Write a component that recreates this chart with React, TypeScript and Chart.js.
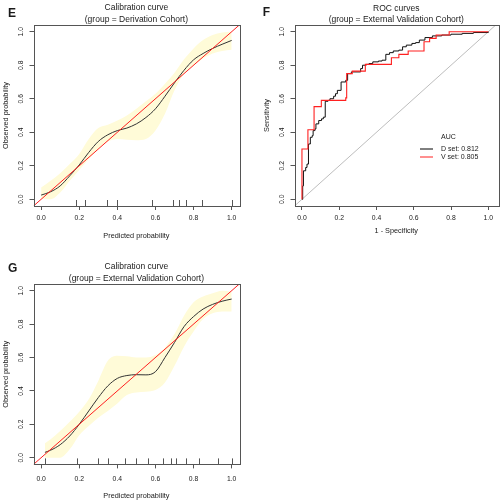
import React, { useEffect, useRef } from "react";
import { Chart, registerables } from "chart.js";

Chart.register(...registerables);

const FONT = "'Liberation Sans', Arial, Helvetica, sans-serif";
const TXT = "#1a1a1a";
const BOX = "#555555";
const RED = "#ff2020";
const BAND = "#fffbd8";

// ---------------- data ----------------
const axisTicks = [0, 0.2, 0.4, 0.6, 0.8, 1.0];
const diagEnds = [-0.04, 1.04];

// Panel E: calibration, derivation cohort
const calEx = [0, 0.05, 0.1, 0.15, 0.2, 0.25, 0.3, 0.35, 0.4, 0.45, 0.5, 0.55, 0.6, 0.65, 0.7, 0.75, 0.8, 0.85, 0.9, 0.95, 1.0];
const calEobs = [0.025, 0.045, 0.08, 0.14, 0.205, 0.28, 0.345, 0.385, 0.41, 0.425, 0.45, 0.488, 0.54, 0.615, 0.695, 0.77, 0.832, 0.87, 0.9, 0.925, 0.948];
const calEupper = [0.07, 0.11, 0.155, 0.21, 0.27, 0.36, 0.425, 0.445, 0.47, 0.5, 0.54, 0.585, 0.63, 0.69, 0.755, 0.835, 0.9, 0.95, 0.98, 0.995, 1.0];
const calElower = [0.005, 0.0, 0.04, 0.11, 0.175, 0.24, 0.3, 0.345, 0.36, 0.355, 0.353, 0.36, 0.41, 0.51, 0.65, 0.75, 0.8, 0.84, 0.87, 0.885, 0.892];
const rugE = [0.185, 0.228, 0.344, 0.396, 0.583, 0.69, 0.726, 0.76, 0.845, 1.0];

// Panel G: calibration, external validation cohort
const calGx = [0.02, 0.05, 0.1, 0.15, 0.2, 0.25, 0.3, 0.35, 0.4, 0.45, 0.5, 0.55, 0.6, 0.65, 0.7, 0.75, 0.8, 0.85, 0.9, 0.95, 1.0];
const calGobs = [0.032, 0.045, 0.078, 0.13, 0.2, 0.28, 0.36, 0.43, 0.475, 0.492, 0.497, 0.496, 0.515, 0.6, 0.69, 0.785, 0.845, 0.89, 0.918, 0.937, 0.95];
const calGupper = [0.086, 0.11, 0.16, 0.215, 0.275, 0.35, 0.46, 0.58, 0.61, 0.607, 0.6, 0.6, 0.615, 0.66, 0.74, 0.85, 0.93, 0.965, 0.985, 1.0, 0.995];
const calGlower = [0.0, 0.0, 0.0, 0.05, 0.135, 0.19, 0.24, 0.28, 0.325, 0.375, 0.39, 0.395, 0.405, 0.45, 0.55, 0.665, 0.755, 0.83, 0.865, 0.875, 0.876];
const rugG = [0.02, 0.19, 0.3, 0.35, 0.44, 0.5, 0.56, 0.64, 0.68, 0.71, 0.76, 0.83, 0.93, 1.0];

// Panel F: ROC curves (1 - specificity, sensitivity)
const rocDfpr = [0, 0.004, 0.008, 0.02, 0.027, 0.035, 0.045, 0.055, 0.06, 0.07, 0.075, 0.09, 0.105, 0.115, 0.125, 0.14, 0.15, 0.17, 0.18, 0.19, 0.21, 0.235, 0.245, 0.265, 0.315, 0.325, 0.345, 0.36, 0.38, 0.41, 0.43, 0.45, 0.47, 0.49, 0.52, 0.54, 0.56, 0.59, 0.61, 0.63, 0.66, 0.7, 0.75, 0.8, 0.86, 0.92, 1.0];
const rocDtpr = [0, 0.08, 0.17, 0.19, 0.21, 0.33, 0.37, 0.38, 0.41, 0.42, 0.45, 0.47, 0.48, 0.49, 0.585, 0.59, 0.6, 0.615, 0.63, 0.65, 0.7, 0.71, 0.75, 0.76, 0.78, 0.8, 0.805, 0.81, 0.82, 0.825, 0.83, 0.865, 0.875, 0.885, 0.89, 0.91, 0.92, 0.93, 0.935, 0.95, 0.965, 0.975, 0.98, 0.985, 0.99, 0.995, 1.0];
const rocVfpr = [0, 0, 0.032, 0.032, 0.065, 0.065, 0.104, 0.104, 0.12, 0.235, 0.24, 0.24, 0.27, 0.27, 0.34, 0.34, 0.48, 0.48, 0.52, 0.52, 0.57, 0.57, 0.655, 0.655, 0.685, 0.685, 0.72, 0.72, 0.79, 0.79, 1.0];
const rocVtpr = [0, 0.3, 0.3, 0.415, 0.43, 0.553, 0.553, 0.59, 0.59, 0.605, 0.605, 0.75, 0.75, 0.765, 0.765, 0.805, 0.805, 0.845, 0.845, 0.865, 0.865, 0.885, 0.885, 0.94, 0.94, 0.96, 0.96, 0.98, 0.98, 1.0, 1.0];
const aucTitle = "AUC";
const aucLabels = ["D set: 0.812", "V set: 0.805"];
const aucColors = ["#000000", RED];

// ---------------- helpers ----------------
const pts = (xs: number[], ys: number[]) => xs.map((x, i) => ({ x, y: ys[i] }));

function calDatasets(xs: number[], obs: number[], up: number[], lo: number[]) {
  return [
    { data: pts(diagEnds, diagEnds), borderColor: RED, borderWidth: 1, showLine: true, pointRadius: 0, order: 0 },
    { data: pts(xs, obs), borderColor: "#333333", borderWidth: 1, showLine: true, pointRadius: 0, cubicInterpolationMode: "monotone", order: 1 },
    { data: pts(xs, up), borderColor: "transparent", borderWidth: 0, backgroundColor: BAND, fill: "+1", showLine: true, pointRadius: 0, cubicInterpolationMode: "monotone", order: 2 },
    { data: pts(xs, lo), borderColor: "transparent", borderWidth: 0, fill: false, showLine: true, pointRadius: 0, cubicInterpolationMode: "monotone", order: 3 },
  ];
}

function rocDatasets() {
  return [
    { data: pts(diagEnds, diagEnds), borderColor: "#bdbdbd", borderWidth: 1, showLine: true, pointRadius: 0, order: 2 },
    { data: pts(rocDfpr, rocDtpr), borderColor: "#111111", borderWidth: 1, showLine: true, pointRadius: 0, stepped: true, order: 1 },
    { data: pts(rocVfpr, rocVtpr), borderColor: RED, borderWidth: 1.1, showLine: true, pointRadius: 0, stepped: true, order: 0 },
  ];
}

type Spec = {
  letter: string;
  letterX: number;
  letterY: number;
  titles: string[];
  titleY: number[];
  xTitle: string;
  yTitle: string;
  area: { left: number; right: number; top: number; bottom: number };
  xMax: number;
  xTickPad: number;
  xTitlePad: number;
  yTitlePad: number;
  rug?: number[];
  legend?: { x: number; y: number };
  datasets: any[];
};

function makeConfig(spec: Spec): any {
  const W = 250;
  const H = 250;
  const decor = {
    id: "decor",
    afterDraw(chart: any) {
      const { ctx, chartArea: a } = chart;
      ctx.save();
      ctx.strokeStyle = BOX;
      ctx.lineWidth = 1;
      ctx.strokeRect(Math.round(a.left) + 0.5, Math.round(a.top) + 0.5, Math.round(a.right - a.left), Math.round(a.bottom - a.top));
      if (spec.rug) {
        const xs = chart.scales.x;
        ctx.beginPath();
        spec.rug.forEach((v) => {
          const px = Math.round(xs.getPixelForValue(v)) + 0.5;
          ctx.moveTo(px, a.bottom);
          ctx.lineTo(px, a.bottom - 6);
        });
        ctx.stroke();
      }
      ctx.fillStyle = TXT;
      ctx.textAlign = "center";
      ctx.textBaseline = "middle";
      ctx.font = `8.5px ${FONT}`;
      const cx = (a.left + a.right) / 2;
      spec.titles.forEach((t, i) => ctx.fillText(t, cx, spec.titleY[i]));
      ctx.textAlign = "left";
      ctx.textBaseline = "alphabetic";
      ctx.font = `bold 12px ${FONT}`;
      ctx.fillText(spec.letter, spec.letterX, spec.letterY);
      if (spec.legend) {
        const { x, y } = spec.legend;
        ctx.font = `7px ${FONT}`;
        ctx.textBaseline = "middle";
        ctx.fillText(aucTitle, x + 21, y);
        aucLabels.forEach((lab, i) => {
          const ly = y + 12 + i * 8;
          ctx.strokeStyle = aucColors[i];
          ctx.lineWidth = 1;
          ctx.beginPath();
          ctx.moveTo(x, ly);
          ctx.lineTo(x + 13, ly);
          ctx.stroke();
          ctx.fillStyle = TXT;
          ctx.fillText(lab, x + 21, ly);
        });
      }
      ctx.restore();
    },
  };

  const tickFont = { size: 6.8, family: FONT };
  const titleFont = { size: 7.3, family: FONT };
  const grid = { display: true, drawOnChartArea: false, drawTicks: true, tickLength: 4, color: BOX, tickColor: BOX, lineWidth: 1 };

  return {
    type: "scatter",
    data: { datasets: spec.datasets },
    options: {
      responsive: false,
      maintainAspectRatio: false,
      animation: false,
      devicePixelRatio: 1,
      layout: { padding: { left: 0, top: spec.area.top, right: W - spec.area.right, bottom: 0 } },
      plugins: { legend: { display: false }, tooltip: { enabled: false }, title: { display: false } },
      scales: {
        x: {
          type: "linear",
          min: -0.04,
          max: spec.xMax,
          afterBuildTicks: (s: any) => {
            s.ticks = axisTicks.map((v) => ({ value: v }));
          },
          afterFit: (s: any) => {
            s.height = H - spec.area.bottom;
          },
          grid,
          border: { display: false },
          ticks: { font: tickFont, color: TXT, padding: spec.xTickPad, autoSkip: false, maxRotation: 0, minRotation: 0, callback: (v: any) => Number(v).toFixed(1) },
          title: { display: true, text: spec.xTitle, font: titleFont, color: TXT, padding: { top: 0, bottom: spec.xTitlePad } },
        },
        y: {
          type: "linear",
          min: -0.04,
          max: 1.04,
          afterBuildTicks: (s: any) => {
            s.ticks = axisTicks.map((v) => ({ value: v }));
          },
          afterFit: (s: any) => {
            s.width = spec.area.left;
          },
          grid,
          border: { display: false },
          ticks: { font: tickFont, color: TXT, padding: 4, autoSkip: false, minRotation: 90, maxRotation: 90, crossAlign: "center", callback: (v: any) => Number(v).toFixed(1) },
          title: { display: true, text: spec.yTitle, font: titleFont, color: TXT, padding: { top: spec.yTitlePad, bottom: 0 } },
        },
      },
    },
    plugins: [decor],
  };
}

function Panel({ make, left, top }: { make: () => any; left: number; top: number }) {
  const ref = useRef<HTMLCanvasElement>(null);
  useEffect(() => {
    const chart = new Chart(ref.current as HTMLCanvasElement, make());
    return () => chart.destroy();
  }, []);
  return <canvas ref={ref} width={250} height={250} style={{ position: "absolute", left, top, width: 250, height: 250, display: "block" }} />;
}

const specE = (): Spec => ({
  letter: "E",
  letterX: 8,
  letterY: 17,
  titles: ["Calibration curve", "(group = Derivation Cohort)"],
  titleY: [7.5, 19.3],
  xTitle: "Predicted probability",
  yTitle: "Observed probability",
  area: { left: 33.5, right: 239.3, top: 25, bottom: 206 },
  xMax: 1.04,
  xTickPad: 3.8,
  xTitlePad: 9.6,
  yTitlePad: 1.6,
  rug: rugE,
  datasets: calDatasets(calEx, calEobs, calEupper, calElower),
});

const specF = (): Spec => ({
  letter: "F",
  letterX: 12.7,
  letterY: 15.5,
  titles: ["ROC curves", "(group = External Validation Cohort)"],
  titleY: [8.5, 19.5],
  xTitle: "1 - Specificity",
  yTitle: "Sensitivity",
  area: { left: 44.5, right: 248, top: 25, bottom: 206 },
  xMax: 1.052,
  xTickPad: 3.8,
  xTitlePad: 14.6,
  yTitlePad: 12.6,
  legend: { x: 170, y: 137 },
  datasets: rocDatasets(),
});

const specG = (): Spec => ({
  letter: "G",
  letterX: 8,
  letterY: 22,
  titles: ["Calibration curve", "(group = External Validation Cohort)"],
  titleY: [16.5, 29],
  xTitle: "Predicted probability",
  yTitle: "Observed probability",
  area: { left: 33.5, right: 239.3, top: 34, bottom: 214.4 },
  xMax: 1.04,
  xTickPad: 6.7,
  xTitlePad: 0,
  yTitlePad: 1.6,
  rug: rugG,
  datasets: calDatasets(calGx, calGobs, calGupper, calGlower),
});

export default function App() {
  return (
    <div style={{ position: "fixed", left: 0, top: 0, width: 500, height: 500, overflow: "hidden", background: "#ffffff" }}>
      <Panel make={() => makeConfig(specE())} left={0} top={0} />
      <Panel make={() => makeConfig(specF())} left={250} top={0} />
      <Panel make={() => makeConfig(specG())} left={0} top={250} />
    </div>
  );
}
